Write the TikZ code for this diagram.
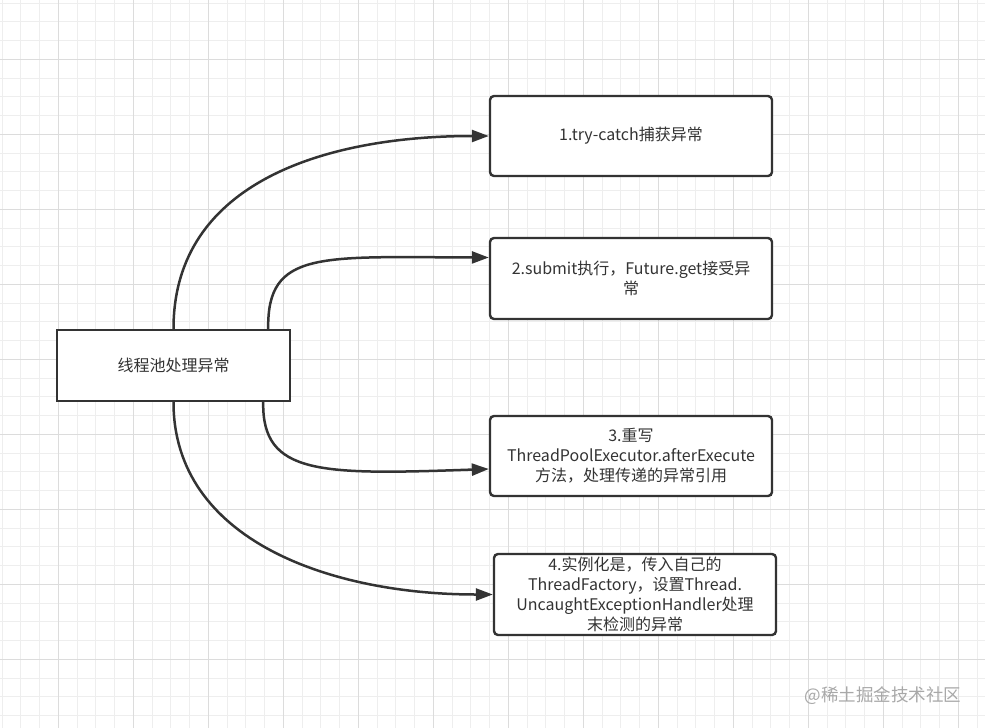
\documentclass[tikz,border=0pt]{standalone}
\usepackage{fontspec}
\setmainfont{Noto Sans CJK SC}
\usetikzlibrary{arrows.meta}

\definecolor{gridminor}{HTML}{EEEEEE}
\definecolor{gridmajor}{HTML}{DCDCDC}
\definecolor{ink}{HTML}{333333}
\definecolor{mark}{HTML}{A8A8A8}

\tikzset{
  box/.style={draw=ink, line width=2.4pt, fill=white, text=ink, align=center,
    minimum width=282pt, minimum height=80pt, inner sep=0pt,
    rounded corners=4pt, font=\fontsize{16}{20}\selectfont},
  flow/.style={draw=ink, line width=2.5pt, -{Triangle[length=17pt,width=12pt]}},
}

\begin{document}
\begin{tikzpicture}[x=1pt,y=-1pt]
    \useasboundingbox (0,0) rectangle (985,728);
    \fill[white] (0,0) rectangle (985,728);
    % grid
    \foreach \x in {0,...,52}
             {
               \draw[gridminor,line width=1pt] (2.05+18.75*\x,0) -- (2.05+18.75*\x,728);
             }
    \foreach \y in {0,...,38}
             {
               \draw[gridminor,line width=1pt] (0,3.05+18.75*\y) -- (985,3.05+18.75*\y);
             }
    \foreach \x in {0,...,12}
             {
               \draw[gridmajor,line width=1pt] (58.3+75*\x,0) -- (58.3+75*\x,728);
             }
    \foreach \y in {0,...,8}
             {
               \draw[gridmajor,line width=1pt] (0,59.3+75*\y) -- (985,59.3+75*\y);
             }

    \node[box, rounded corners=0pt, minimum width=233pt, minimum height=71pt] (Pool) at (173.5,365.5) {线程池处理异常};
    \node[box] (TryCatch) at (631,136) {1.try-catch捕获异常};
    \node[box, minimum height=81pt] (Submit) at (631,278.5) {2.submit执行，Future.get接受异\\常};
    \node[box] (After) at (631,456) {3.重写\\ThreadPoolExecutor.afterExecute\\方法，处理传递的异常引用};
    \node[box, minimum height=81pt] (Factory) at (635,594.5) {4.实例化是，传入自己的\\ThreadFactory，设置Thread.\\UncaughtExceptionHandler处理\\末检测的异常};

    \draw[flow] (Pool.north) .. controls (173.5,180) and (330,136) .. (TryCatch.west);
    \draw[flow] ([xshift=-23pt]Pool.north east) .. controls (267,250) and (320,257) .. ([yshift=21pt]Submit.west);
    \draw[flow] ([xshift=-28pt]Pool.south east) .. controls (262,475) and (320,475) .. ([yshift=-13pt]After.west);
    \draw[flow] (Pool.south) .. controls (173.5,540) and (330,594.5) .. (Factory.west);

    \node[text=mark, font=\fontsize{17.5}{20}\selectfont] (Mark) at (883,696) {@稀土掘金技术社区};
\end{tikzpicture}
\end{document}
